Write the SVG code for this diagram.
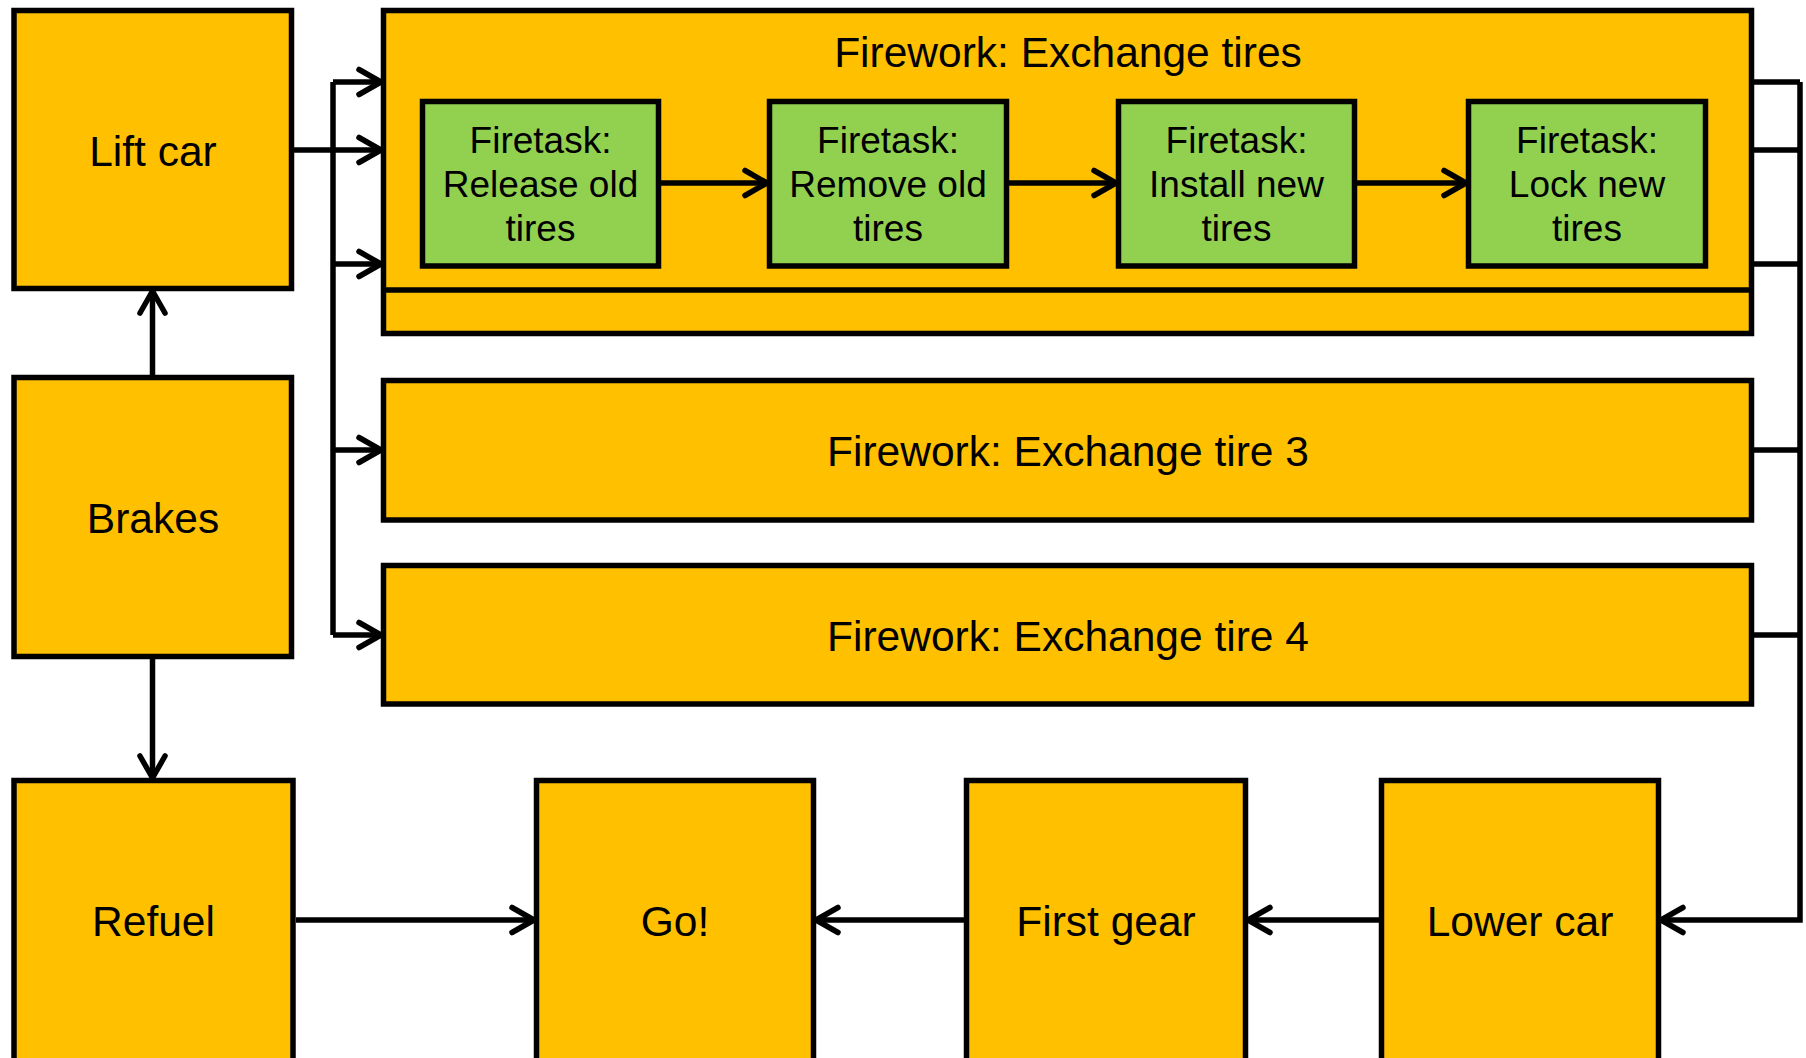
<svg xmlns="http://www.w3.org/2000/svg" width="1806" height="1058" viewBox="0 0 1806 1058">
  <style>
    .step { fill: #FFC000; stroke: #000; stroke-width: 5.5; }
    .task { fill: #92D050; stroke: #000; stroke-width: 5.5; }
    .lbl { font-family: "Liberation Sans", Arial, sans-serif; font-size: 42.5px; fill: #000; text-anchor: middle; }
    .tlbl { font-family: "Liberation Sans", Arial, sans-serif; font-size: 37px; fill: #000; text-anchor: middle; }
    .wire { fill: none; stroke: #000; stroke-width: 5.5; }
    .arr { fill: none; stroke: #000; stroke-width: 5.5; marker-end: url(#head); }
  </style>
  <defs>
    <marker id="head" markerUnits="userSpaceOnUse" markerWidth="40" markerHeight="40" viewBox="-30 -20 40 40" refX="-3" refY="0" orient="auto">
      <path d="M-25,-12.5 L-3,0 L-25,12.5" fill="none" stroke="#000" stroke-width="5.5" stroke-linecap="round" stroke-linejoin="round"/>
    </marker>
  </defs>

  <rect width="1806" height="1058" fill="#fff"/>

  <!-- connectors -->
  <g id="connectors">
    <!-- left bus feeding the tire fireworks -->
    <path class="wire" d="M333,82 V635"/>
    <path class="arr" d="M333,82 H381"/>
    <path class="arr" d="M294,150 H381"/>
    <path class="arr" d="M333,264 H381"/>
    <path class="arr" d="M333,450 H381"/>
    <path class="arr" d="M333,635 H381"/>
    <!-- brakes up and down -->
    <path class="arr" d="M152.5,375 V291"/>
    <path class="arr" d="M152.5,659 V778"/>
    <!-- right bus collecting into lower car -->
    <path class="wire" d="M1754,82 H1800 M1754,150 H1800 M1754,264 H1800 M1754,450 H1800 M1754,635 H1800"/>
    <path class="arr" d="M1800,82 V920 H1661"/>
    <!-- bottom row -->
    <path class="arr" d="M1379,920 H1248"/>
    <path class="arr" d="M964,920 H816"/>
    <path class="arr" d="M296,920 H534"/>
  </g>

  <g id="lift-car">
    <rect class="step" x="14" y="10.5" width="277.5" height="278"/>
    <text class="lbl" x="153" y="166">Lift car</text>
  </g>
  <g id="brakes">
    <rect class="step" x="14" y="377.5" width="277.5" height="279"/>
    <text class="lbl" x="153" y="533">Brakes</text>
  </g>

  <g id="exchange-tires">
    <rect class="step" x="383.5" y="10.5" width="1368" height="323"/>
    <line x1="383.5" y1="290" x2="1751.5" y2="290" stroke="#000" stroke-width="5.5"/>
    <text class="lbl" x="1068" y="67">Firework: Exchange tires</text>
  </g>

  <g id="task-release">
    <rect class="task" x="422.5" y="101.5" width="236" height="164.5"/>
    <text class="tlbl" x="540.5" y="153">Firetask:</text>
    <text class="tlbl" x="540.5" y="197">Release old</text>
    <text class="tlbl" x="540.5" y="241">tires</text>
  </g>
  <g id="task-remove">
    <rect class="task" x="769.5" y="101.5" width="237" height="164.5"/>
    <text class="tlbl" x="888" y="153">Firetask:</text>
    <text class="tlbl" x="888" y="197">Remove old</text>
    <text class="tlbl" x="888" y="241">tires</text>
  </g>
  <g id="task-install">
    <rect class="task" x="1118.5" y="101.5" width="236" height="164.5"/>
    <text class="tlbl" x="1236.5" y="153">Firetask:</text>
    <text class="tlbl" x="1236.5" y="197">Install new</text>
    <text class="tlbl" x="1236.5" y="241">tires</text>
  </g>
  <g id="task-lock">
    <rect class="task" x="1468.5" y="101.5" width="237" height="164.5"/>
    <text class="tlbl" x="1587" y="153">Firetask:</text>
    <text class="tlbl" x="1587" y="197">Lock new</text>
    <text class="tlbl" x="1587" y="241">tires</text>
  </g>
  <g id="task-arrows">
    <path class="arr" d="M661,183 H767"/>
    <path class="arr" d="M1009,183 H1116"/>
    <path class="arr" d="M1357,183 H1466"/>
  </g>

  <g id="exchange-tire-3">
    <rect class="step" x="383.5" y="380.5" width="1368" height="139.5"/>
    <text class="lbl" x="1068" y="466">Firework: Exchange tire 3</text>
  </g>
  <g id="exchange-tire-4">
    <rect class="step" x="383.5" y="565.5" width="1368" height="138.5"/>
    <text class="lbl" x="1068" y="651">Firework: Exchange tire 4</text>
  </g>

  <g id="refuel">
    <rect class="step" x="14" y="780.5" width="279" height="300"/>
    <text class="lbl" x="153.5" y="936">Refuel</text>
  </g>
  <g id="go">
    <rect class="step" x="536.5" y="780.5" width="277" height="300"/>
    <text class="lbl" x="675" y="936">Go!</text>
  </g>
  <g id="first-gear">
    <rect class="step" x="966.5" y="780.5" width="279" height="300"/>
    <text class="lbl" x="1106" y="936">First gear</text>
  </g>
  <g id="lower-car">
    <rect class="step" x="1381.5" y="780.5" width="277" height="300"/>
    <text class="lbl" x="1520" y="936">Lower car</text>
  </g>
</svg>
